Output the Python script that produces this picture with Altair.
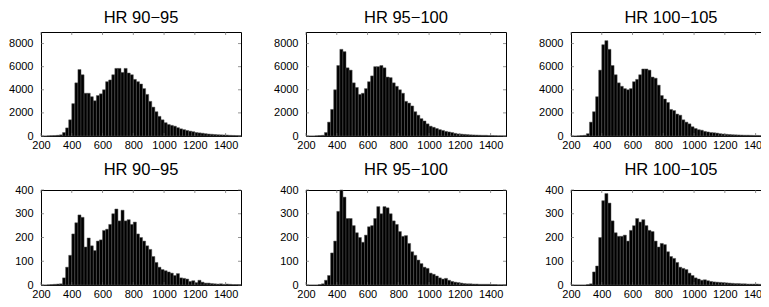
import altair as alt
import pandas as pd

FONT = "Liberation Sans"

BIN_START = [200, 220, 240, 260, 280, 300, 320, 340, 360, 380, 400, 420, 440,
             460, 480, 500, 520, 540, 560, 580, 600, 620, 640, 660, 680, 700,
             720, 740, 760, 780, 800, 820, 840, 860, 880, 900, 920, 940, 960,
             980, 1000, 1020, 1040, 1060, 1080, 1100, 1120, 1140, 1160, 1180, 1200, 1220,
             1240, 1260, 1280, 1300, 1320, 1340, 1360, 1380, 1400, 1420, 1440, 1460, 1480]

TITLES = ["HR 90\u221295", "HR 95\u2212100", "HR 100\u2212105"]

TOP_90_95 = [0, 0, 20, 30, 40, 60, 100, 300, 700, 1400, 2800, 4600, 5750,
             5300, 3700, 3700, 3400, 3050, 3500, 3650, 4000, 4700, 4850, 5300, 5850, 5850,
             5500, 5850, 5450, 5300, 4900, 4700, 4500, 4100, 3600, 3000, 2500, 2100, 1700,
             1400, 1150, 1000, 920, 850, 720, 620, 550, 480, 420, 370, 300, 270,
             240, 200, 170, 150, 130, 110, 100, 90, 80, 60, 50, 40, 30]
TOP_95_100 = [0, 0, 0, 20, 40, 60, 300, 1200, 2300, 4000, 6100, 7500, 7300,
              5900, 5700, 4600, 4200, 3600, 3700, 4100, 4700, 5200, 6000, 6000, 6100, 5900,
              5100, 5050, 4600, 4300, 4000, 3700, 3000, 2850, 2600, 2100, 1800, 1500, 1300,
              1050, 850, 750, 650, 550, 480, 400, 350, 300, 230, 180, 160, 140,
              120, 100, 90, 80, 70, 60, 60, 40, 40, 30, 20, 20, 10]
TOP_100_105 = [0, 0, 20, 40, 60, 200, 1200, 2100, 3400, 5700, 7900, 8250, 7500,
               6100, 5300, 4600, 4300, 4100, 4000, 4100, 4700, 4900, 5300, 5800, 5800, 5700,
               5100, 5000, 4400, 3500, 3200, 2900, 2300, 2200, 1900, 1800, 1400, 1200, 1050,
               800, 650, 550, 500, 400, 350, 300, 280, 250, 200, 170, 150, 130,
               110, 100, 90, 80, 70, 70, 60, 50, 50, 40, 30, 20, 20]
BOT_90_95 = [0, 0, 1, 2, 3, 4, 5, 30, 75, 125, 215, 262, 295,
             285, 160, 198, 165, 145, 185, 190, 230, 235, 255, 300, 320, 270,
             315, 270, 275, 255, 265, 215, 200, 185, 165, 150, 120, 95, 75,
             65, 60, 55, 50, 40, 48, 30, 28, 25, 15, 18, 10, 20,
             12, 8, 8, 6, 5, 4, 5, 3, 4, 3, 2, 2, 2]
BOT_95_100 = [0, 0, 0, 0, 2, 5, 20, 40, 135, 185, 310, 400, 370,
              280, 280, 250, 220, 200, 180, 210, 245, 250, 280, 330, 300, 330,
              325, 300, 270, 255, 225, 205, 208, 175, 140, 125, 105, 90, 75,
              70, 50, 45, 38, 30, 25, 28, 20, 15, 12, 10, 8, 6,
              5, 5, 4, 4, 3, 3, 3, 3, 2, 2, 1, 1, 1]
BOT_100_105 = [0, 0, 0, 0, 0, 2, 5, 55, 80, 200, 355, 385, 345,
               270, 220, 205, 205, 210, 185, 230, 250, 280, 265, 275, 250, 230,
               225, 185, 160, 175, 170, 140, 120, 112, 95, 75, 70, 65, 50,
               40, 30, 25, 20, 22, 18, 15, 13, 12, 11, 10, 9, 8,
               7, 6, 6, 5, 5, 4, 4, 4, 4, 3, 3, 2, 2]

X_TICKS = [200, 400, 600, 800, 1000, 1200, 1400]
Y_TICKS_TOP = [0, 2000, 4000, 6000, 8000]
Y_TICKS_BOT = [0, 100, 200, 300, 400]
X_DOMAIN = [200, 1500]
Y_MAX_TOP = 9000
Y_MAX_BOT = 400

W = 200
H_TOP = 104
H_BOT = 95


def panel(title, counts, ymax, yticks, h):
    df = pd.DataFrame({"start": BIN_START,
                       "end": [s + 20 for s in BIN_START],
                       "count": counts})
    xs = alt.Scale(domain=X_DOMAIN, nice=False, zero=False)
    ys = alt.Scale(domain=[0, ymax], nice=False, zero=True)
    xaxis = alt.Axis(values=X_TICKS, title=None, labelPadding=3, format="d",
                     labelFlush=False, labelOverlap=False)
    yaxis = alt.Axis(values=yticks, title=None, labelPadding=8, format="d",
                     labelFlush=False, labelOverlap=False)
    bars = alt.Chart(df).mark_rect(fill="black", stroke="#555555",
                                   strokeWidth=0.5).encode(
        x=alt.X("start:Q", scale=xs, axis=xaxis),
        x2="end:Q",
        y=alt.Y("count:Q", scale=ys, axis=yaxis),
        y2=alt.datum(0),
    )
    xt = pd.DataFrame({"v": X_TICKS})
    yt = pd.DataFrame({"v": yticks})
    tick_col = "#666666"
    xb = alt.Chart(xt).mark_tick(color=tick_col, size=3, thickness=1,
                                 orient="vertical").encode(
        x=alt.X("v:Q", scale=xs, axis=xaxis), y=alt.value(h - 1.5))
    xtop = alt.Chart(xt).mark_tick(color=tick_col, size=3, thickness=1,
                                   orient="vertical").encode(
        x=alt.X("v:Q", scale=xs, axis=xaxis), y=alt.value(1.5))
    yl = alt.Chart(yt).mark_tick(color=tick_col, size=3, thickness=1,
                                 orient="horizontal").encode(
        y=alt.Y("v:Q", scale=ys, axis=yaxis), x=alt.value(1.5))
    yr = alt.Chart(yt).mark_tick(color=tick_col, size=3, thickness=1,
                                 orient="horizontal").encode(
        y=alt.Y("v:Q", scale=ys, axis=yaxis), x=alt.value(W - 1.5))
    return alt.layer(bars, xb, xtop, yl, yr).properties(
        width=W, height=h,
        title=alt.TitleParams(title, font=FONT, fontSize=16.5, fontWeight="normal",
                              color="black", offset=6),
    )


panels = [
    panel(TITLES[0], TOP_90_95, Y_MAX_TOP, Y_TICKS_TOP, H_TOP),
    panel(TITLES[1], TOP_95_100, Y_MAX_TOP, Y_TICKS_TOP, H_TOP),
    panel(TITLES[2], TOP_100_105, Y_MAX_TOP, Y_TICKS_TOP, H_TOP),
    panel(TITLES[0], BOT_90_95, Y_MAX_BOT, Y_TICKS_BOT, H_BOT),
    panel(TITLES[1], BOT_95_100, Y_MAX_BOT, Y_TICKS_BOT, H_BOT),
    panel(TITLES[2], BOT_100_105, Y_MAX_BOT, Y_TICKS_BOT, H_BOT),
]

# The figure is cropped on the right like the original: fixed canvas, no auto-growth.
chart = alt.concat(*panels, columns=3, spacing={"row": 54, "column": 65},
                   bounds="flush").properties(
    autosize=alt.AutoSizeParams(type="none"),
    padding={"left": 33, "top": 24, "right": 720, "bottom": 267},
    background="white",
).configure_view(
    stroke="black", strokeWidth=1
).configure_axis(
    domainColor="black", domainWidth=1, labelColor="black", labelFont=FONT,
    labelFontSize=11, ticks=False, grid=False,
)

chart.save("out.html", embed_options={"renderer": "svg", "actions": False})
